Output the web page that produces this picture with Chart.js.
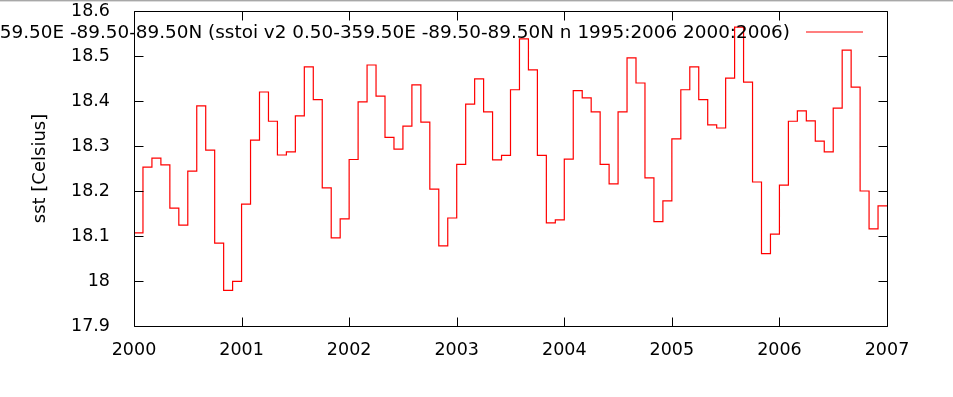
<!DOCTYPE html>
<html>
<head>
<meta charset="utf-8">
<script src="https://cdn.jsdelivr.net/npm/chart.js@4/dist/chart.umd.min.js"></script>
<style>
html,body{margin:0;padding:0;background:#fff;overflow:hidden}
#wrap{width:953px;height:397px;position:relative}
</style>
</head>
<body>
<div id="wrap"><canvas id="c" width="953" height="397"></canvas></div>
<script>
// ---- data (monthly sst, Celsius) ----
const years = [2000, 2001, 2002, 2003, 2004, 2005, 2006];
const sst2000 = [18.107, 18.253, 18.273, 18.258, 18.162, 18.124, 18.244, 18.389, 18.291, 18.084, 17.979, 17.999];
const sst2001 = [18.171, 18.313, 18.420, 18.355, 18.280, 18.287, 18.367, 18.476, 18.403, 18.207, 18.096, 18.138];
const sst2002 = [18.270, 18.398, 18.480, 18.411, 18.319, 18.293, 18.344, 18.436, 18.353, 18.204, 18.078, 18.140];
const sst2003 = [18.259, 18.393, 18.449, 18.376, 18.269, 18.279, 18.425, 18.538, 18.469, 18.279, 18.129, 18.136];
const sst2004 = [18.271, 18.423, 18.407, 18.376, 18.259, 18.216, 18.376, 18.496, 18.440, 18.229, 18.132, 18.178];
const sst2005 = [18.316, 18.425, 18.476, 18.403, 18.347, 18.340, 18.451, 18.564, 18.442, 18.220, 18.061, 18.104];
const sst2006 = [18.213, 18.355, 18.378, 18.356, 18.311, 18.287, 18.384, 18.513, 18.431, 18.200, 18.116, 18.167];
const xTicks = [2000, 2001, 2002, 2003, 2004, 2005, 2006, 2007];
const yTicks = [17.9, 18.0, 18.1, 18.2, 18.3, 18.4, 18.5, 18.6];
const seriesLabel = "sstoi v2 0.50-359.50E -89.50-89.50N (sstoi v2 0.50-359.50E -89.50-89.50N n 1995:2006 2000:2006)";
const yTitle = "sst [Celsius]";
const lineColor = '#ff0000';

// build step points: each month value holds until next month
const byYear = [sst2000, sst2001, sst2002, sst2003, sst2004, sst2005, sst2006];
const points = [];
years.forEach((yr, i) => byYear[i].forEach((v, m) => points.push({x: yr + m / 12, y: v})));
points.push({x: xTicks[xTicks.length - 1], y: points[points.length - 1].y});

const FONT = "'DejaVu Sans', sans-serif";

const framePlugin = {
  id: 'frame',
  beforeDraw(chart) {
    const ctx = chart.ctx;
    ctx.save();
    ctx.fillStyle = '#ffffff';
    ctx.fillRect(0, 0, chart.width, chart.height);
    ctx.fillStyle = '#a8a8a8';
    ctx.fillRect(0, 0, chart.width, 1);
    ctx.fillStyle = '#dcdcdc';
    ctx.fillRect(0, 1, chart.width, 1);
    ctx.restore();
  },
  afterDraw(chart) {
    const {ctx, chartArea: a, scales} = chart;
    const L = Math.round(a.left) + 0.5, R = Math.round(a.right) + 0.5;
    const T = Math.round(a.top) + 0.5, B = Math.round(a.bottom) + 0.5;
    ctx.save();
    ctx.strokeStyle = '#000';
    ctx.lineWidth = 1;
    ctx.beginPath();
    ctx.rect(L, T, R - L, B - T);
    const tl = 9;
    scales.x.ticks.forEach(t => {
      const px = Math.round(scales.x.getPixelForValue(t.value)) + 0.5;
      ctx.moveTo(px, B); ctx.lineTo(px, B - tl);
      ctx.moveTo(px, T); ctx.lineTo(px, T + tl);
    });
    scales.y.ticks.forEach(t => {
      const py = Math.round(scales.y.getPixelForValue(t.value)) + 0.5;
      ctx.moveTo(L, py); ctx.lineTo(L + tl, py);
      ctx.moveTo(R, py); ctx.lineTo(R - tl, py);
    });
    ctx.stroke();
    // gnuplot-style key
    const ds = chart.data.datasets[0];
    ctx.font = '18.4px ' + FONT;
    ctx.fillStyle = '#000';
    ctx.textAlign = 'right';
    ctx.textBaseline = 'alphabetic';
    ctx.fillText(ds.label, 790, 38);
    ctx.strokeStyle = lineColor;
    ctx.lineWidth = 1.2;
    ctx.beginPath();
    ctx.moveTo(806, 32); ctx.lineTo(863, 32);
    ctx.stroke();
    ctx.restore();
  }
};

new Chart(document.getElementById('c'), {
  type: 'line',
  data: {
    datasets: [{
      label: seriesLabel,
      data: points,
      borderColor: lineColor,
      borderWidth: 1.2,
      pointRadius: 0,
      fill: false,
      stepped: 'before'
    }]
  },
  options: {
    responsive: false,
    animation: false,
    devicePixelRatio: 1,
    layout: {padding: {left: 0, right: 66, top: 11, bottom: 0}},
    plugins: {legend: {display: false}, tooltip: {enabled: false}},
    scales: {
      x: {
        type: 'linear',
        min: xTicks[0],
        max: xTicks[xTicks.length - 1],
        afterBuildTicks(s) { s.ticks = xTicks.map(v => ({value: v})); },
        afterFit(s) { s.height = 71; s.paddingLeft = 0; s.paddingRight = 0; },
        grid: {display: false},
        border: {display: false},
        ticks: {
          autoSkip: false, maxRotation: 0, padding: 6,
          color: '#000', font: {family: FONT, size: 17.5},
          callback: v => String(v)
        }
      },
      y: {
        type: 'linear',
        min: yTicks[0],
        max: yTicks[yTicks.length - 1],
        afterBuildTicks(s) { s.ticks = yTicks.map(v => ({value: v})); },
        afterFit(s) { s.width = 134; s.paddingTop = 0; s.paddingBottom = 0; },
        grid: {display: false},
        border: {display: false},
        title: {
          display: true, text: yTitle, color: '#000',
          font: {family: FONT, size: 18}, padding: {top: 30, bottom: 0}
        },
        ticks: {
          padding: 16, color: '#000', font: {family: FONT, size: 17.5},
          callback: v => String(Number(v.toFixed(1)))
        }
      }
    }
  },
  plugins: [framePlugin]
});
</script>
</body>
</html>
